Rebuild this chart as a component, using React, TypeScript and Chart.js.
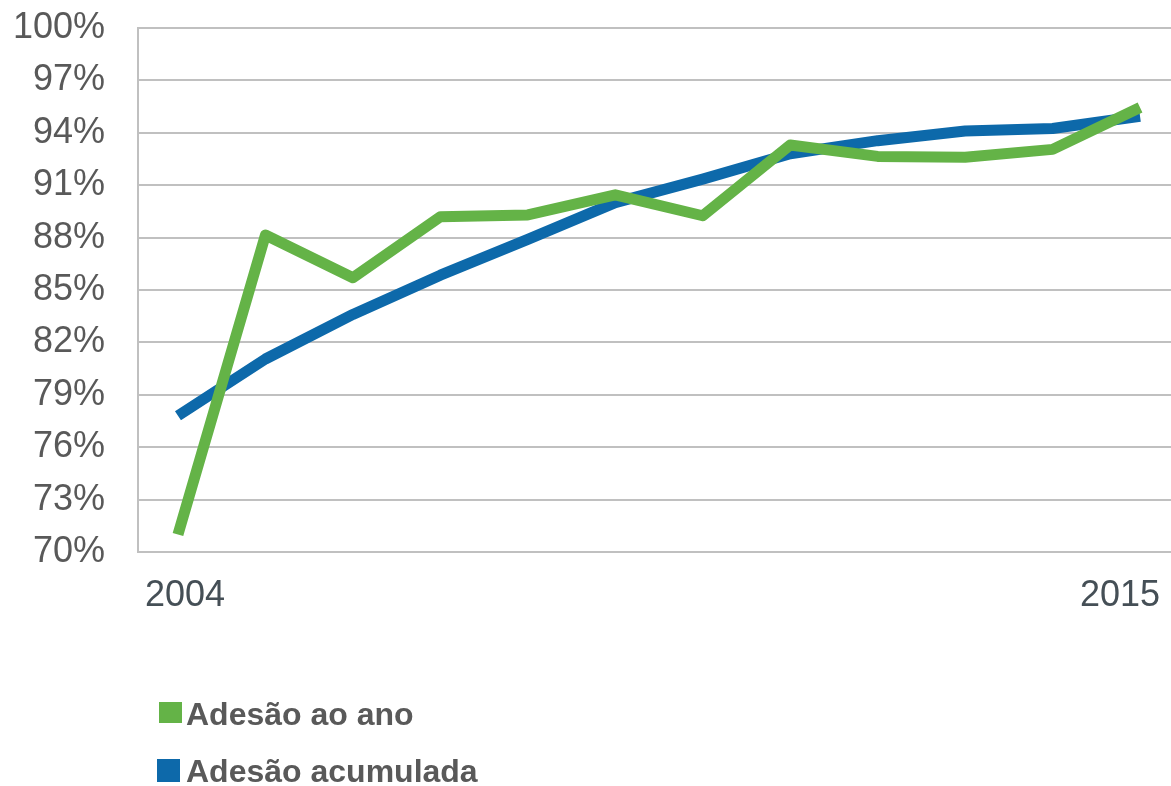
import React, { useEffect, useRef } from 'react';
import { Chart, registerables } from 'chart.js';

Chart.register(...registerables);

const years = [2004, 2005, 2006, 2007, 2008, 2009, 2010, 2011, 2012, 2013, 2014, 2015];
const xTickYears = [2004, 2015];
const seriesLabels = ['Adesão ao ano', 'Adesão acumulada'];
const adesaoAno = [71.0, 88.15, 85.7, 89.2, 89.3, 90.45, 89.25, 93.3, 92.65, 92.6, 93.05, 95.45];
const adesaoAcumulada = [77.8, 81.05, 83.6, 85.85, 87.9, 90.0, 91.35, 92.8, 93.55, 94.1, 94.25, 94.95];
const yMin = 70;
const yMax = 100;
const yStep = 3;

const GREEN = '#64b347';
const BLUE = '#0d69aa';
const seriesColors = [GREEN, BLUE];

export default function App() {
  const ref = useRef<HTMLCanvasElement>(null);

  useEffect(() => {
    if (!ref.current) return;
    const toPoints = (vals: number[]) => vals.map((v, i) => ({ x: years[i], y: v }));
    const chart = new Chart(ref.current, {
      type: 'line',
      data: {
        datasets: [
          {
            label: seriesLabels[0],
            data: toPoints(adesaoAno),
            borderColor: GREEN,
            backgroundColor: GREEN,
            borderWidth: 11,
            pointRadius: 0,
            borderCapStyle: 'butt',
            borderJoinStyle: 'round',
            tension: 0,
          },
          {
            label: seriesLabels[1],
            data: toPoints(adesaoAcumulada),
            borderColor: BLUE,
            backgroundColor: BLUE,
            borderWidth: 11,
            pointRadius: 0,
            borderCapStyle: 'butt',
            borderJoinStyle: 'round',
            tension: 0,
          },
        ],
      },
      options: {
        animation: false,
        responsive: false,
        maintainAspectRatio: false,
        layout: { padding: { top: 28, left: 0, right: 0, bottom: 0 } },
        plugins: {
          legend: { display: false },
          tooltip: { enabled: false },
        },
        scales: {
          x: {
            type: 'linear',
            min: 2003.543,
            max: 2015.354,
            grid: { display: false, drawTicks: false },
            border: { display: true, color: '#c0c0c0', width: 2 },
            afterBuildTicks: (axis: any) => {
              // Excel-style label placement: first label nudged right, last nudged left
              const shift = [0.08, -0.23];
              axis.ticks = xTickYears.map((y, i) => ({ value: y + shift[i], label: String(y) }));
            },
            ticks: {
              autoSkip: false,
              maxRotation: 0,
              padding: 22,
              color: '#454f56',
              font: { family: '"Liberation Sans", Arial, sans-serif', size: 36 },
              callback: (_v: any, i: number) => String(xTickYears[i]),
            },
            afterFit: (scale: any) => {
              scale.height = 234;
              scale.paddingLeft = 0;
              scale.paddingRight = 0;
            },
          },
          y: {
            min: yMin,
            max: yMax,
            grid: { color: '#c0c0c0', lineWidth: 2, drawTicks: false },
            border: { display: true, color: '#c0c0c0', width: 2 },
            ticks: {
              stepSize: yStep,
              padding: 33,
              color: '#595959',
              font: { family: '"Liberation Sans", Arial, sans-serif', size: 36 },
              callback: (v: any) => `${v}%`,
            },
            afterFit: (scale: any) => {
              scale.width = 138;
              scale.paddingTop = 0;
              scale.paddingBottom = 0;
            },
          },
        },
      },
    });
    return () => chart.destroy();
  }, []);

  const legendText: React.CSSProperties = {
    position: 'absolute',
    fontFamily: '"Liberation Sans", Arial, sans-serif',
    fontWeight: 'bold',
    fontSize: 32,
    lineHeight: '32px',
    color: '#595959',
    whiteSpace: 'nowrap',
  };

  return (
    <div style={{ position: 'fixed', left: 0, top: 0, width: 1171, height: 786, background: '#fff' }}>
      <canvas ref={ref} width={1171} height={786} style={{ position: 'absolute', left: 0, top: 0, width: 1171, height: 786 }} />
      <div style={{ position: 'absolute', left: 159, top: 702, width: 23, height: 21, background: seriesColors[0] }} />
      <div style={{ ...legendText, left: 186, top: 698 }}>{seriesLabels[0]}</div>
      <div style={{ position: 'absolute', left: 157, top: 759, width: 23, height: 23, background: seriesColors[1] }} />
      <div style={{ ...legendText, left: 186, top: 755 }}>{seriesLabels[1]}</div>
    </div>
  );
}
